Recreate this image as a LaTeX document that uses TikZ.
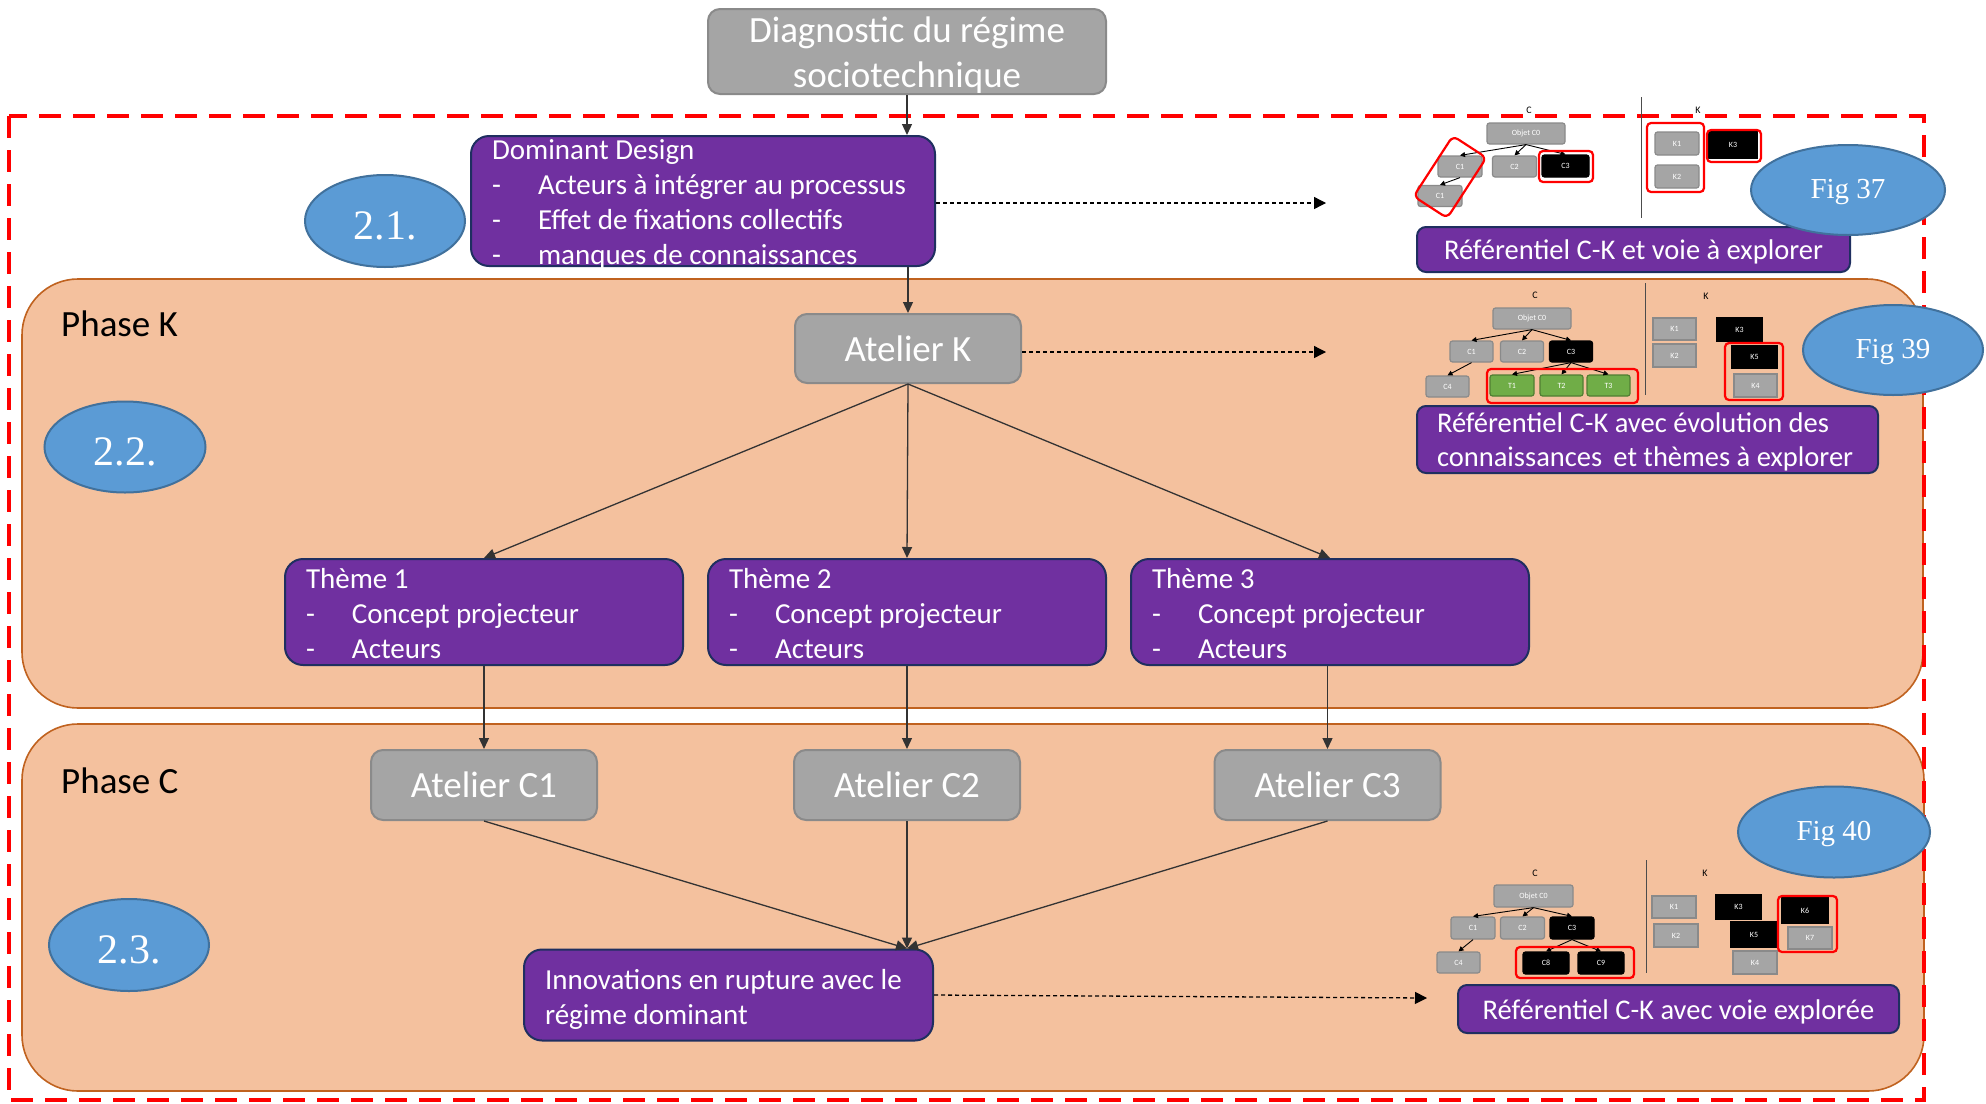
\documentclass[tikz,border=0pt]{standalone}
\usepackage{fontspec}
\setmainfont{Carlito}
\newfontfamily\serifont{Liberation Serif}
\usetikzlibrary{arrows.meta,calc,shapes.geometric}
\definecolor{purp}{HTML}{7030A0}
\definecolor{purpb}{HTML}{1F2F60}
\definecolor{grayf}{HTML}{A5A5A5}
\definecolor{grayb}{HTML}{8A8A8A}
\definecolor{bluef}{HTML}{5B9BD5}
\definecolor{blueb}{HTML}{41719C}
\definecolor{peach}{HTML}{F4C19E}
\definecolor{peachb}{HTML}{C0621F}
\definecolor{greenf}{HTML}{70AD47}
\definecolor{greenb}{HTML}{507E32}
\newcommand\ditem[1]{\mbox{\makebox[46pt][l]{-}#1}}
\newcommand\fs[2]{\fontsize{#1}{#2}\selectfont}
\newcommand\ptxt[3]{\raisebox{-#1}[\height][\depth]{\parbox[t]{#2}{\raggedright #3}}}
\newcommand\lowr[2]{\raisebox{-#1}[\height][\depth]{#2}}
\begin{document}
\begin{tikzpicture}[x=1pt,y=-1pt,
  pbox/.style={draw=purpb, fill=purp, line width=2pt, rounded corners=18pt, text=white, font=\fs{29}{35}, inner xsep=21pt, inner ysep=0pt},
  rbox/.style={pbox, rounded corners=9pt, font=\fs{28.5}{34}, inner xsep=20pt},
  gbox/.style={draw=grayb, fill=grayf, line width=2pt, rounded corners=12pt, text=white, font=\fs{37}{45}, inner sep=0pt, align=center},
  oval/.style={ellipse, draw=blueb, fill=bluef, line width=2pt, text=white, inner sep=0pt},
  phase/.style={draw=peachb, fill=peach, line width=1.6pt, rounded corners=56pt, inner sep=0pt},
  reddash/.style={draw=red, line width=4.5pt, dash pattern=on 22pt off 12pt},
  conn/.style={draw=black!80, line width=1.3pt, -{Triangle[length=11pt,width=10pt]}},
  dotconn/.style={draw=black, line width=1.3pt, dash pattern=on 4pt off 3pt, -{Triangle[length=12pt,width=12pt]}},
  mg/.style={draw=grayb, fill=grayf, line width=1.2pt, rounded corners=2.5pt, text=white, font=\fs{8}{9}, inner sep=0pt, minimum width=44pt, minimum height=21pt},
  mk/.style={mg, fill=black, draw=black},
  mks/.style={mk, sharp corners},
  mgr/.style={mg, fill=greenf, draw=greenb},
  hl/.style={draw=red, line width=2.2pt, rounded corners=4pt, inner sep=0pt},
  mconn/.style={draw=black, line width=0.9pt, -{Triangle[length=5pt,width=5pt]}},
  lbl/.style={font=\fs{10}{12}, text=black, inner sep=0pt},
  dv/.style={draw=black!70, line width=1pt}
]
\useasboundingbox (0,0) rectangle (1986,1103);
\fill[white] (0,0) rectangle (1986,1103);

% phases
\node[phase, minimum width=1901pt, minimum height=429pt] (phK) at (972.5,493.5) {};
\node[phase, minimum width=1902pt, minimum height=367pt] (phC) at (973,907.5) {};
\draw[reddash] (9,116) rectangle (1924,1100);

\node[anchor=west, font=\fs{37}{44}, inner sep=0pt] (lK) at (61,324) {Phase K};
\node[anchor=west, font=\fs{37}{44}, inner sep=0pt] (lC) at (61,781) {Phase C};

% main boxes
\node[gbox, minimum width=398pt, minimum height=85pt] (diag) at (907,51.5) {};
\node[text=white, font=\fs{37}{45}, align=center, inner sep=0pt] (diagT) at (907,55.5) {Diagnostic du régime\\sociotechnique};
\node[pbox, minimum width=464pt, minimum height=130pt] (dom) at (703,201)
  {\ptxt{3pt}{422pt}{Dominant Design\\\ditem{Acteurs à intégrer au processus}\\\ditem{Effet de fixations collectifs}\\\ditem{manques de connaissances}}};
\node[gbox, minimum width=226pt, minimum height=69pt] (atK) at (908,348.5) {Atelier K};
\node[pbox, minimum width=398pt, minimum height=106pt] (th1) at (484,612) {\ptxt{2pt}{356pt}{Thème 1\\\ditem{Concept projecteur}\\\ditem{Acteurs}}};
\node[pbox, minimum width=398pt, minimum height=106pt] (th2) at (907,612) {\ptxt{2pt}{356pt}{Thème 2\\\ditem{Concept projecteur}\\\ditem{Acteurs}}};
\node[pbox, minimum width=398pt, minimum height=106pt] (th3) at (1330,612) {\ptxt{2pt}{356pt}{Thème 3\\\ditem{Concept projecteur}\\\ditem{Acteurs}}};
\node[gbox, minimum width=226pt, minimum height=70pt] (atC1) at (484,785) {Atelier C1};
\node[gbox, minimum width=226pt, minimum height=70pt] (atC2) at (907,785) {Atelier C2};
\node[gbox, minimum width=226pt, minimum height=70pt] (atC3) at (1327.5,785) {Atelier C3};
\node[pbox, minimum width=409pt, minimum height=91pt] (innov) at (728.5,995) {\ptxt{4.5pt}{367pt}{\mbox{Innovations en rupture avec le}\\\mbox{régime dominant}}};

\node[rbox, minimum width=433pt, minimum height=45pt] (ref1) at (1633.5,249.5) {\lowr{2.5pt}{Référentiel C-K et voie à explorer}};
\node[rbox, minimum width=461pt, minimum height=67pt] (ref2) at (1647.5,439.5) {\ptxt{2pt}{421pt}{\mbox{Référentiel C-K avec évolution des}\\\mbox{connaissances\, et thèmes à explorer}}};
\node[rbox, minimum width=441pt, minimum height=48pt] (ref3) at (1678.5,1009) {\lowr{2.5pt}{Référentiel C-K avec voie explorée}};

% connectors
\coordinate (inTop) at (atC2.south |- innov.north);
\draw[conn] (diag.south) -- (diag.south |- dom.north);
\draw[conn] (atK.north |- dom.south) -- (atK.north);
\draw[conn] (atK.south) -- (th1.north);
\draw[conn] (atK.south) -- (th2.north);
\draw[conn] (atK.south) -- (th3.north);
\draw[conn] (th1.south) -- (atC1.north);
\draw[conn] (th2.south) -- (atC2.north);
\draw[conn] (atC3.north |- th3.south) -- (atC3.north);
\draw[conn] (atC1.south) -- (inTop);
\draw[conn] (atC2.south) -- (inTop);
\draw[conn] (atC3.south) -- (inTop);

\coordinate (e1) at (1326,203);
\coordinate (e2) at (1326,352);
\coordinate (e3) at (1427,998);
\draw[dotconn] (e1 -| dom.east) -- (e1);
\draw[dotconn] (e2 -| atK.east) -- (e2);
\draw[dotconn] (innov.east) -- (e3);

% ---- mini diagram Fig 37 ----
\node[lbl] (aC) at (1529,110) {C};
\node[lbl] (aK) at (1698,110) {K};
\node[mg, minimum width=78pt] (A0) at (1526,133.5) {Objet C0};
\node[mg] (A1) at (1460,166.5) {C1};
\node[mg] (A2) at (1514.5,166.5) {C2};
\node[mk, minimum width=47pt, minimum height=22pt] (A3) at (1565.5,166) {C3};
\node[mg] (A4) at (1440,196) {C1};
\draw[mconn] (A0.south) -- (A1.north);
\draw[mconn] (A0.south) -- (A2.north);
\draw[mconn] (A0.south) -- (A3.north);
\draw[mconn] (A1.south) -- (A4.north);
\node[hl, minimum width=54pt, minimum height=31pt] (hA3) at (1566,166.5) {};
\node[hl, minimum width=40pt, minimum height=72pt, rotate=-33, rounded corners=6pt] (hA1) at (1450,177) {};
\coordinate (dA1) at (1641,97);
\coordinate (dA2) at (1641,218);
\draw[dv] (dA1) -- (dA2);
\node[mg, minimum height=23pt] (AK1) at (1677,143.5) {K1};
\node[mg, minimum height=23pt] (AK2) at (1677,176.5) {K2};
\node[mks, minimum width=48pt, minimum height=26pt] (AK3) at (1733,145) {K3};
\node[hl, minimum width=57pt, minimum height=69pt] (hAK) at (1675.5,157.5) {};
\node[hl, minimum width=54pt, minimum height=32pt] (hAK3) at (1734,146) {};

% ---- mini diagram Fig 39 ----
\node[lbl] (bC) at (1535,295) {C};
\node[lbl] (bK) at (1706,296) {K};
\node[mg, minimum width=78pt] (B0) at (1532,318.5) {Objet C0};
\node[mg, minimum width=43pt] (B1) at (1471.5,351.5) {C1};
\node[mg, minimum width=43pt] (B2) at (1522,351.5) {C2};
\node[mk, minimum width=43pt] (B3) at (1571,351.5) {C3};
\node[mg, minimum width=43pt] (B4) at (1447.5,386.5) {C4};
\node[mgr] (BT1) at (1512,385.5) {T1};
\node[mgr, minimum width=43pt] (BT2) at (1561.5,385.5) {T2};
\node[mgr, minimum width=43pt] (BT3) at (1608.5,385.5) {T3};
\draw[mconn] (B0.south) -- (B1.north);
\draw[mconn] (B0.south) -- (B2.north);
\draw[mconn] (B0.south) -- (B3.north);
\draw[mconn] (B1.south) -- (B4.north);
\draw[mconn] (B3.south) -- (BT1.north);
\draw[mconn] (B3.south) -- (BT2.north);
\draw[mconn] (B3.south) -- (BT3.north);
\node[hl, minimum width=151pt, minimum height=34pt] (hBT) at (1562.5,386) {};
\coordinate (dB1) at (1645,283);
\coordinate (dB2) at (1645,395);
\draw[dv] (dB1) -- (dB2);
\node[mg, minimum width=43pt, minimum height=22pt, sharp corners] (BK1) at (1674.5,329) {K1};
\node[mg, minimum width=43pt, minimum height=23pt, sharp corners] (BK2) at (1674.5,355.5) {K2};
\node[mks, minimum width=45pt, minimum height=23pt] (BK3) at (1739.5,329.5) {K3};
\node[mks, minimum width=45pt, minimum height=22pt] (BK5) at (1754.5,357) {K5};
\node[mg, minimum width=43pt, minimum height=23pt, sharp corners] (BK4) at (1755.5,385.5) {K4};
\node[hl, minimum width=58pt, minimum height=57pt] (hBK) at (1754,371.5) {};

% ---- mini diagram Fig 40 ----
\node[lbl] (dC) at (1535,873) {C};
\node[lbl] (dK) at (1705,873) {K};
\node[mg, minimum width=79pt, minimum height=22pt] (D0) at (1533.5,896) {Objet C0};
\node[mg, minimum height=22pt] (D1) at (1473,928) {C1};
\node[mg, minimum height=22pt] (D2) at (1522.5,928) {C2};
\node[mk, minimum height=22pt] (D3) at (1572,928) {C3};
\node[mg, minimum width=43pt] (D4) at (1458.5,962.5) {C4};
\node[mk, minimum width=46pt, minimum height=22pt] (D8) at (1546,963) {C8};
\node[mk, minimum width=46pt, minimum height=22pt] (D9) at (1601,963) {C9};
\draw[mconn] (D0.south) -- (D1.north);
\draw[mconn] (D0.south) -- (D2.north);
\draw[mconn] (D0.south) -- (D3.north);
\draw[mconn] (D1.south) -- (D4.north);
\draw[mconn] (D3.south) -- (D8.north);
\draw[mconn] (D3.south) -- (D9.north);
\node[hl, minimum width=118pt, minimum height=31pt] (hD) at (1575,962.5) {};
\coordinate (dD1) at (1646,860);
\coordinate (dD2) at (1646,973);
\draw[dv] (dD1) -- (dD2);
\node[mg, minimum height=22pt, sharp corners] (DK1) at (1674,907) {K1};
\node[mg, minimum height=23pt, sharp corners] (DK2) at (1676,935.5) {K2};
\node[mks, minimum width=45pt, minimum height=24pt] (DK3) at (1738.5,907) {K3};
\node[mks, minimum width=46pt, minimum height=25pt] (DK5) at (1754,934.5) {K5};
\node[mg, minimum height=23pt, sharp corners] (DK4) at (1755,962.5) {K4};
\node[mks, minimum width=46pt, minimum height=25pt] (DK6) at (1805,910.5) {K6};
\node[mg, minimum height=22pt, sharp corners] (DK7) at (1810,938) {K7};
\node[hl, minimum width=59pt, minimum height=56pt] (hDK) at (1807.5,924) {};

% ellipses
\node[oval, minimum width=160pt, minimum height=92pt, font=\serifont\fs{42}{42}] (o21) at (385,221) {\lowr{5pt}{2.1.}};
\node[oval, minimum width=161pt, minimum height=91pt, font=\serifont\fs{42}{42}] (o22) at (125,447) {\lowr{5pt}{2.2.}};
\node[oval, minimum width=160pt, minimum height=92pt, font=\serifont\fs{42}{42}] (o23) at (129,945) {\lowr{5pt}{2.3.}};
\node[oval, minimum width=194pt, minimum height=90pt, font=\serifont\fs{29}{29}] (f37) at (1848,190) {\lowr{2pt}{Fig 37}};
\node[oval, minimum width=180pt, minimum height=90pt, font=\serifont\fs{29}{29}] (f39) at (1893,350) {\lowr{2pt}{Fig 39}};
\node[oval, minimum width=192pt, minimum height=91pt, font=\serifont\fs{29}{29}] (f40) at (1834,832) {\lowr{2pt}{Fig 40}};
\end{tikzpicture}
\end{document}
